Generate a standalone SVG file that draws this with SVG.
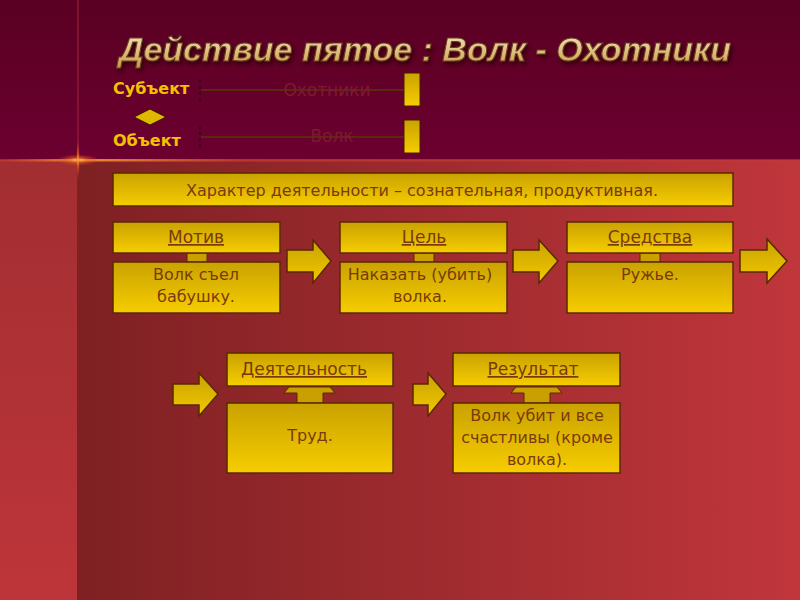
<svg xmlns="http://www.w3.org/2000/svg" width="800" height="600" viewBox="0 0 800 600">
<defs>
  <linearGradient id="topbg" x1="0" y1="0" x2="0" y2="1">
    <stop offset="0" stop-color="#5a0022"/>
    <stop offset="1" stop-color="#6c0030"/>
  </linearGradient>
  <linearGradient id="botbg" x1="0" y1="0" x2="1" y2="0">
    <stop offset="0" stop-color="#771e20"/>
    <stop offset="1" stop-color="#c0363b"/>
  </linearGradient>
  <linearGradient id="leftbg" x1="0" y1="0" x2="0" y2="1">
    <stop offset="0" stop-color="#a22e32"/>
    <stop offset="1" stop-color="#bd3539"/>
  </linearGradient>
  <linearGradient id="gold" x1="0" y1="0" x2="0" y2="1">
    <stop offset="0" stop-color="#c9a200"/>
    <stop offset="1" stop-color="#f7cd00"/>
  </linearGradient>
  <linearGradient id="goldArrow" x1="0" y1="0" x2="0" y2="1">
    <stop offset="0" stop-color="#c9a200"/>
    <stop offset="1" stop-color="#f2c800"/>
  </linearGradient>
  <linearGradient id="titleFill" x1="0" y1="0" x2="0" y2="1">
    <stop offset="0" stop-color="#f5e6c4"/>
    <stop offset="0.55" stop-color="#e0c080"/>
    <stop offset="1" stop-color="#c89a40"/>
  </linearGradient>
  <radialGradient id="glow" cx="0.5" cy="0.5" r="0.5">
    <stop offset="0" stop-color="#ffd060" stop-opacity="1"/>
    <stop offset="0.4" stop-color="#f07020" stop-opacity="0.6"/>
    <stop offset="1" stop-color="#d03020" stop-opacity="0"/>
  </radialGradient>
  <linearGradient id="hline" x1="0" y1="0" x2="1" y2="0">
    <stop offset="0" stop-color="#c83a30" stop-opacity="0.6"/>
    <stop offset="0.1" stop-color="#f09030"/>
    <stop offset="0.3" stop-color="#c83a30" stop-opacity="0.8"/>
    <stop offset="1" stop-color="#c03a3a" stop-opacity="0.6"/>
  </linearGradient>
  <filter id="shadow" x="-5%" y="-20%" width="110%" height="150%">
    <feGaussianBlur in="SourceAlpha" stdDeviation="2"/>
    <feOffset dx="2" dy="3" result="b"/>
    <feFlood flood-color="#2a0008" flood-opacity="0.8"/>
    <feComposite in2="b" operator="in"/>
    <feMerge><feMergeNode/><feMergeNode in="SourceGraphic"/></feMerge>
  </filter>
  <style>
    .box { fill: url(#gold); stroke: #5a2800; stroke-width: 1.5; }
    .arrow { fill: url(#goldArrow); stroke: #5a2800; stroke-width: 1.5; stroke-linejoin: miter; }
    .stem { fill: #c9a000; stroke: #5a2800; stroke-width: 1; }
    .txt { font-family: "DejaVu Sans", Verdana, sans-serif; font-size: 16px; fill: #7a3a0c; text-anchor: middle; }
    .hdr { font-family: "DejaVu Sans", Verdana, sans-serif; font-size: 17px; fill: #7a3a0c; text-anchor: middle; text-decoration: underline; }
    .lbl { font-family: "DejaVu Sans", Verdana, sans-serif; font-size: 16px; font-weight: bold; fill: #f5c000; }
    .faint { font-family: "DejaVu Sans", Verdana, sans-serif; font-size: 17px; fill: #7e1a30; text-anchor: middle; }
    .bar { fill: url(#gold); stroke: #4a1a00; stroke-width: 1; }
  </style>
</defs>

<!-- background -->
<rect x="0" y="0" width="800" height="160" fill="url(#topbg)"/>
<rect x="0" y="160" width="800" height="440" fill="url(#botbg)"/>
<rect x="0" y="160" width="77" height="440" fill="url(#leftbg)"/>
<line x1="78" y1="0" x2="78" y2="160" stroke="#a8283a" stroke-width="1.2" opacity="0.8"/>
<rect x="0" y="159" width="800" height="2.5" fill="url(#hline)"/>
<ellipse cx="78" cy="160" rx="22" ry="6" fill="url(#glow)"/>
<ellipse cx="78" cy="160" rx="2" ry="20" fill="url(#glow)"/>

<!-- title -->
<text x="425" y="61" text-anchor="middle" font-family="'Liberation Sans', Arial, sans-serif" font-size="34" font-style="italic" font-weight="bold" fill="url(#titleFill)" stroke="#6a4020" stroke-width="1" filter="url(#shadow)">Действие пятое : Волк - Охотники</text>

<!-- subject / object -->
<g id="subject">
  <text class="lbl" x="113" y="94">Субъект</text>
  <line x1="200" y1="80" x2="200" y2="104" stroke="#2a0010" stroke-width="1" stroke-dasharray="3,3"/>
  <line x1="201" y1="90" x2="404" y2="90" stroke="#5a2a10" stroke-width="2"/>
  <text class="faint" x="327" y="96">Охотники</text>
  <rect class="bar" x="404" y="73" width="16" height="33"/>
</g>
<g id="diamond">
  <polygon points="150,109 166,117 150,125 134,117" fill="#e0b800" stroke="#3a1000" stroke-width="1"/>
</g>
<g id="object">
  <text class="lbl" x="113" y="146">Объект</text>
  <line x1="200" y1="126" x2="200" y2="150" stroke="#2a0010" stroke-width="1" stroke-dasharray="3,3"/>
  <line x1="201" y1="137" x2="404" y2="137" stroke="#5a2a10" stroke-width="2"/>
  <text class="faint" x="332" y="142">Волк</text>
  <rect class="bar" x="404" y="120" width="16" height="33"/>
</g>

<!-- connectors -->
<g id="connectors">
  <rect class="stem" x="187" y="253" width="20" height="9"/>
  <rect class="stem" x="414" y="253" width="20" height="9"/>
  <rect class="stem" x="640" y="253" width="20" height="9"/>
  <path class="stem" d="M297,403 L297,393 L284,393 L289,387 L330,387 L335,393 L323,393 L323,403 Z"/>
  <path class="stem" d="M524,403 L524,393 L511,393 L516,387 L557,387 L562,393 L550,393 L550,403 Z"/>
  <path class="arrow" d="M287,250 L313,250 L313,240 L331,261 L313,283 L313,272 L287,272 Z"/>
  <path class="arrow" d="M513,250 L539,250 L539,240 L558,261 L539,283 L539,272 L513,272 Z"/>
  <path class="arrow" d="M740,250 L767,250 L767,239 L787,261 L767,283 L767,272 L740,272 Z"/>
  <path class="arrow" d="M173,384 L199,384 L199,373 L218,394 L199,416 L199,405 L173,405 Z"/>
  <path class="arrow" d="M413,384 L428,384 L428,373 L446,394 L428,416 L428,405 L413,405 Z"/>
</g>

<!-- character -->
<g id="character">
  <rect class="box" x="113" y="173" width="620" height="33"/>
  <text class="txt" x="422" y="196" font-size="17.5">Характер деятельности – сознательная, продуктивная.</text>
</g>

<g id="motiv">
  <rect class="box" x="113" y="222" width="167" height="31"/>
  <text class="hdr" x="196" y="243">Мотив</text>
  <rect class="box" x="113" y="262" width="167" height="51"/>
  <text class="txt" x="196" y="280">Волк съел</text>
  <text class="txt" x="196" y="302">бабушку.</text>
</g>

<g id="cel">
  <rect class="box" x="340" y="222" width="167" height="31"/>
  <text class="hdr" x="424" y="243">Цель</text>
  <rect class="box" x="340" y="262" width="167" height="51"/>
  <text class="txt" x="420" y="280" font-size="15.5">Наказать (убить)</text>
  <text class="txt" x="420" y="302">волка.</text>
</g>

<g id="sredstva">
  <rect class="box" x="567" y="222" width="166" height="31"/>
  <text class="hdr" x="650" y="243">Средства</text>
  <rect class="box" x="567" y="262" width="166" height="51"/>
  <text class="txt" x="650" y="280">Ружье.</text>
</g>

<g id="deyatelnost">
  <rect class="box" x="227" y="353" width="166" height="33"/>
  <text class="hdr" x="304" y="375">Деятельность</text>
  <rect class="box" x="227" y="403" width="166" height="70"/>
  <text class="txt" x="310" y="441">Труд.</text>
</g>

<g id="rezultat">
  <rect class="box" x="453" y="353" width="167" height="33"/>
  <text class="hdr" x="533" y="375">Результат</text>
  <rect class="box" x="453" y="403" width="167" height="70"/>
  <text class="txt" x="537" y="421">Волк убит и все</text>
  <text class="txt" x="537" y="443">счастливы (кроме</text>
  <text class="txt" x="537" y="465">волка).</text>
</g>
</svg>
